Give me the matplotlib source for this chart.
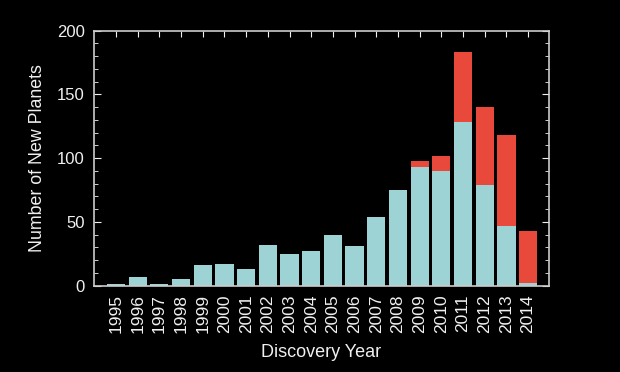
import matplotlib
matplotlib.use("Agg")
import matplotlib.pyplot as plt
from matplotlib.ticker import MultipleLocator

years = [str(y) for y in range(1995, 2015)]
teal_vals = [1, 7, 1, 5, 16, 17, 13, 32, 25, 27, 40, 31, 54, 75, 93, 90, 128, 79, 47, 2]
red_vals = [0, 0, 0, 0, 0, 0, 0, 0, 0, 0, 0, 0, 0, 0, 5, 12, 55, 61, 71, 41]

plt.rcParams['font.family'] = ['Liberation Sans', 'DejaVu Sans']
fg = '#f0f0f0'
fig = plt.figure(figsize=(6.2, 3.72), dpi=100, facecolor='black')
ax = fig.add_axes([94.3/620, 1-285.7/372, (548.7-94.3)/620, (285.7-30.7)/372])
ax.set_facecolor('black')
x = list(range(len(years)))
ax.bar(x, teal_vals, width=0.84, color='#9dd3d5')
ax.bar(x, red_vals, width=0.84, bottom=teal_vals, color='#e8493a')
ax.set_xlim(-1.0, 19.95)
ax.set_ylim(0, 200)
ax.set_xticks(x)
ax.set_xticklabels(years, rotation=90, fontsize=12.5, color=fg)
ax.yaxis.set_major_locator(MultipleLocator(50))
ax.yaxis.set_minor_locator(MultipleLocator(10))
ax.tick_params(axis='y', which='both', direction='in', right=True, colors=fg, labelsize=12, pad=7)
ax.tick_params(axis='y', which='major', length=5)
ax.tick_params(axis='y', which='minor', length=3)
ax.tick_params(axis='x', direction='in', top=True, bottom=False, length=4, colors=fg, pad=6)
for s in ax.spines.values():
    s.set_color('#cccccc')
    s.set_linewidth(1.2)
ax.set_ylabel('Number of New Planets', color=fg, fontsize=12.8, labelpad=8)
ax.set_xlabel('Discovery Year', color=fg, fontsize=13, labelpad=8)
fig.savefig('out.png', dpi=100, facecolor='black')
